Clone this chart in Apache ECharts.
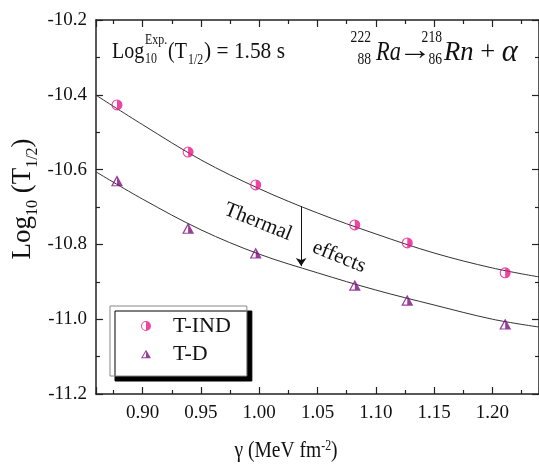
<!DOCTYPE html>
<html>
<head>
    <meta charset="UTF-8">
    <title>222Ra alpha decay</title>
    <style>
        body,
        html {
            width: 100%;
            height: 100%;
            margin: 0;
            padding: 0;
            background: #fff;
        }
        #myChart {
            width: 539px;
            height: 466px;
        }
    </style>
    <script src="https://cdn.jsdelivr.net/npm/echarts@6/dist/echarts.min.js"></script>
</head>
<body>
    <div id="myChart"></div>
    <script>
        // 数据点
        let gammaPts = [0.878, 0.939, 0.997, 1.082, 1.127, 1.211];
        let tIND = [-10.427, -10.553, -10.641, -10.748, -10.796, -10.876];
        let tD = [-10.630, -10.757, -10.823, -10.909, -10.949, -11.013];

        // 拟合曲线
        let fitX = [0.86, 0.90, 0.95, 1.00, 1.05, 1.10, 1.15, 1.20, 1.24];
        let fitIND = [-10.401, -10.480, -10.574, -10.651, -10.716, -10.772, -10.823, -10.863, -10.887];
        let fitD = [-10.606, -10.679, -10.761, -10.826, -10.876, -10.922, -10.962, -11.000, -11.021];

        // 箭头 Thermal effects
        let arrowX = 1.036;
        let arrowY = [-10.698, -10.858];

        // 坐标轴范围
        let xRange = [0.86, 1.24];
        let yRange = [-11.2, -10.2];
        let yStep = 0.2;

        let legendNames = ['T-IND', 'T-D'];

        let pink = '#E8168A';
        let purple = '#7D0E80';
        let serif = 'Liberation Serif';

        // 半填充符号
        let halfCircle = 'path://M5,0A5,5,0,1,1,5,10A5,5,0,1,1,5,0Z M5,9L5,1A4,4,0,0,0,5,9Z';
        let halfTri = 'path://M6,0L12,10L0,10Z M6,2.33L2,9L6,9Z';

        let myEcharts = echarts.init(document.querySelector('#myChart'));

        let axisLine = { lineStyle: { color: '#222', width: 1.5 } };
        let tickStyle = { color: '#222', width: 1.2 };

        function xAxisOf(pos, showLabel) {
            return {
                type: 'value',
                position: pos,
                min: xRange[0],
                max: xRange[1],
                splitNumber: 8,
                axisLine: axisLine,
                axisTick: { inside: true, length: 7, lineStyle: tickStyle },
                minorTick: { show: true, splitNumber: 2, length: 4, lineStyle: tickStyle },
                splitLine: { show: false },
                axisLabel: {
                    show: showLabel,
                    showMinLabel: false,
                    showMaxLabel: false,
                    margin: 10,
                    fontSize: 19,
                    fontFamily: serif,
                    color: '#111',
                    formatter: v => v.toFixed(2)
                }
            };
        }

        function yAxisOf(pos, showLabel) {
            return {
                type: 'value',
                position: pos,
                min: yRange[0],
                max: yRange[1],
                interval: yStep,
                axisLine: axisLine,
                axisTick: { inside: true, length: 7, lineStyle: tickStyle },
                minorTick: { show: true, splitNumber: 2, length: 4, lineStyle: tickStyle },
                splitLine: { show: false },
                axisLabel: {
                    show: showLabel,
                    margin: 9,
                    fontSize: 19,
                    fontFamily: serif,
                    color: '#111',
                    formatter: v => v.toFixed(1)
                }
            };
        }

        function txt(x, y, text, size, extra) {
            return Object.assign({
                type: 'text',
                x: x,
                y: y,
                silent: true,
                style: Object.assign({
                    text: text,
                    fontSize: size,
                    fontFamily: serif,
                    fill: '#111',
                    align: 'left',
                    verticalAlign: 'middle'
                }, (extra && extra.style) || {})
            }, extra && extra.el ? extra.el : {});
        }

        let fitLine = {
            type: 'line',
            smooth: 0.35,
            showSymbol: false,
            silent: true,
            lineStyle: { color: '#333', width: 1 },
            z: 2
        };

        let option = {
            animation: false,
            backgroundColor: '#fff',
            grid: { left: 96, right: -1.5, top: 20, bottom: 72 },
            xAxis: [xAxisOf('bottom', true), xAxisOf('top', false)],
            yAxis: [yAxisOf('left', true), yAxisOf('right', false)],
            legend: {
                data: legendNames,
                orient: 'vertical',
                left: 110,
                top: 306,
                itemWidth: 10,
                itemHeight: 10,
                itemGap: 6,
                padding: [9, 16, 11, 31],
                backgroundColor: '#fff',
                borderColor: '#888',
                borderWidth: 1,
                borderRadius: 0,
                shadowColor: '#000',
                shadowBlur: 0,
                shadowOffsetX: 5,
                shadowOffsetY: 5,
                textStyle: {
                    fontSize: 22,
                    fontFamily: serif,
                    color: '#111',
                    padding: [0, 0, 0, 17],
                    lineHeight: 22
                }
            },
            series: [
                Object.assign({}, fitLine, {
                    data: fitX.map((x, i) => [x, fitIND[i]])
                }),
                Object.assign({}, fitLine, {
                    data: fitX.map((x, i) => [x, fitD[i]]),
                    markLine: {
                        silent: true,
                        symbol: ['none', 'arrow'],
                        symbolSize: 8,
                        label: { show: false },
                        lineStyle: { color: '#111', width: 1, type: 'solid' },
                        data: [[{ coord: [arrowX, arrowY[0]] }, { coord: [arrowX, arrowY[1]] }]]
                    }
                }),
                {
                    name: 'T-IND',
                    type: 'scatter',
                    symbol: halfCircle,
                    symbolSize: 11,
                    itemStyle: { color: pink },
                    data: gammaPts.map((x, i) => [x, tIND[i]]),
                    z: 5
                },
                {
                    name: 'T-D',
                    type: 'scatter',
                    symbol: halfTri,
                    symbolSize: [12, 11],
                    itemStyle: { color: purple },
                    data: gammaPts.map((x, i) => [x, tD[i]]),
                    z: 5
                }
            ],
            graphic: [
                // Log10Exp.(T1/2) = 1.58 s
                txt(112, 52, 'Log', 23, { el: { scaleX: 0.87 } }),
                txt(145, 40, 'Exp.', 14, { el: { scaleX: 0.85 } }),
                txt(145, 59, '10', 14, { el: { scaleX: 0.85 } }),
                txt(168, 52, '(T', 23, { el: { scaleX: 0.87 } }),
                txt(188, 60, '1/2', 14, { el: { scaleX: 0.85 } }),
                txt(204, 52, ') = 1.58 s', 23, { el: { scaleX: 0.93 } }),

                // 222Ra -> 218Rn + alpha
                txt(371, 38, '222', 16, { style: { align: 'right' }, el: { scaleX: 0.85 } }),
                txt(371, 60, '88', 16, { style: { align: 'right' }, el: { scaleX: 0.85 } }),
                txt(376, 53, 'Ra', 28, { style: { fontStyle: 'italic' }, el: { scaleX: 0.8 } }),
                txt(398, 52, '\u2192', 28, { el: { scaleX: 1.2 } }),
                txt(442, 38, '218', 16, { style: { align: 'right' }, el: { scaleX: 0.85 } }),
                txt(442, 60, '86', 16, { style: { align: 'right' }, el: { scaleX: 0.85 } }),
                txt(444, 53, '', 28, {
                    style: {
                        text: '{i|Rn}{r| + }{a|\u03b1}',
                        rich: {
                            i: { fontSize: 28, fontFamily: serif, fontStyle: 'italic', fill: '#111' },
                            r: { fontSize: 28, fontFamily: serif, fill: '#111' },
                            a: { fontSize: 32, fontFamily: serif, fontStyle: 'italic', fill: '#111' }
                        }
                    },
                    el: { scaleX: 0.95 }
                }),

                // Thermal effects
                txt(258, 222, 'Thermal', 21, { style: { align: 'center' }, el: { rotation: -0.38 } }),
                txt(339, 257, 'effects', 21, { style: { align: 'center' }, el: { rotation: -0.38 } }),

                // 坐标轴标题
                txt(25, 199, '', 26, {
                    style: {
                        align: 'center',
                        text: '{n|Log}{s|10}{n| (T}{s|1/2}{n|)}',
                        rich: {
                            n: { fontSize: 27, fontFamily: serif, fill: '#111', verticalAlign: 'bottom', padding: [0, 0, 4, 0] },
                            s: { fontSize: 16, fontFamily: serif, fill: '#111', verticalAlign: 'bottom' }
                        }
                    },
                    el: { rotation: Math.PI / 2 }
                }),
                txt(286, 451, '', 22, {
                    style: {
                        align: 'center',
                        text: '{n|\u03b3 (MeV fm}{p|-2}{n|)}',
                        rich: {
                            n: { fontSize: 23, fontFamily: serif, fill: '#111', verticalAlign: 'top' },
                            p: { fontSize: 14, fontFamily: serif, fill: '#111', verticalAlign: 'top' }
                        }
                    },
                    el: { scaleX: 0.85 }
                })
            ]
        };

        myEcharts.setOption(option, true);
    </script>
</body>
</html>
